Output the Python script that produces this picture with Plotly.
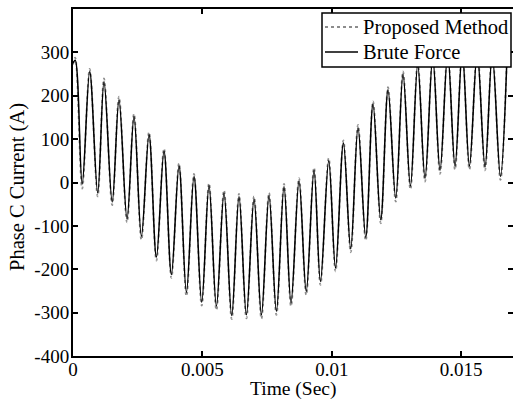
import plotly.graph_objects as go

# Extremum times (s)
time_s = [0.0, 0.000085, 0.000355, 0.000645, 0.000954, 0.001198, 0.001515, 0.001777,
          0.002087, 0.002357, 0.002643, 0.002937, 0.003223, 0.003516, 0.003802, 0.004096,
          0.004382, 0.004675, 0.004973, 0.005255, 0.005541, 0.005835, 0.006132, 0.006414,
          0.006700, 0.006994, 0.007280, 0.007573, 0.007859, 0.008153, 0.008423, 0.008733,
          0.009011, 0.009312, 0.009560, 0.009880, 0.010143, 0.010448, 0.010730, 0.011012,
          0.011310, 0.011592, 0.011889, 0.012172, 0.012469, 0.012751, 0.013037, 0.013319,
          0.013601, 0.013899, 0.014181, 0.014478, 0.014760, 0.015039, 0.015317, 0.015618,
          0.015920, 0.016198, 0.016515, 0.016758]

brute_force = [275, 282, -3, 256, -24, 233, -45, 191, -84, 152, -124, 110, -172, 72, -212, 38,
               -253, 14, -276, -7, -285, -24, -307, -32, -305, -38, -305, -30, -297, -9, -277, 4,
               -251, 28, -228, 50, -197, 91, -153, 127, -126, 181, -86, 214, -36, 250, -8, 272,
               10, 288, 28, 298, 38, 302, 38, 300, 36, 295, 14, 275]

proposed = [272, 288, -14, 262, -32, 240, -52, 198, -92, 158, -132, 116, -180, 78, -220, 44,
            -262, 20, -284, -2, -294, -18, -315, -26, -313, -32, -314, -24, -305, -3, -285, 10,
            -259, 34, -236, 56, -205, 97, -161, 133, -134, 187, -94, 220, -44, 256, -16, 278,
            2, 294, 20, 304, 30, 308, 30, 306, 28, 301, 6, 280]

x_ticks = [0, 0.005, 0.01, 0.015]
x_tick_text = ["0", "0.005", "0.01", "0.015"]
y_ticks = [-400, -300, -200, -100, 0, 100, 200, 300, 400]
y_tick_text = ["-400", "-300", "-200", "-100", "0", "100", "200", "300", "400"]

series_names = ["Proposed Method", "Brute Force"]

FONT = "Liberation Serif, Times New Roman, serif"
GRAY = "#8c8c8c"

fig = go.Figure()
fig.add_trace(go.Scatter(x=time_s, y=proposed, mode="lines", name=series_names[0], showlegend=False,
                         line=dict(color=GRAY, width=1.8, dash="dot", shape="spline", smoothing=1)))
fig.add_trace(go.Scatter(x=time_s, y=brute_force, mode="lines", name=series_names[1], showlegend=False,
                         line=dict(color="black", width=1.5, shape="spline", smoothing=1)))

axis_common = dict(showgrid=False, zeroline=False, showline=True, linecolor="black", linewidth=2,
                   mirror="ticks", ticks="inside", ticklen=5, tickwidth=2, tickcolor="black",
                   tickfont=dict(family=FONT, size=19, color="black"))

fig.update_xaxes(range=[0, 0.017], tickvals=x_ticks, ticktext=x_tick_text,
                 ticklabelstandoff=-5, **axis_common)
fig.update_yaxes(range=[-400, 400], tickvals=y_ticks, ticktext=y_tick_text,
                 ticklabelstandoff=-2, **axis_common)

# Legend box (drawn manually to match the reference's compact box)
PL, PW, PT, PH = 73, 440, 9, 347
def px(xp):
    return (xp - PL) / PW
def py(yp):
    return 1 - (yp - PT) / PH

shapes = [
    dict(type="rect", xref="paper", yref="paper", x0=px(322), x1=px(511), y0=py(67), y1=py(13),
         line=dict(color="black", width=1.5), fillcolor="white", layer="above"),
    dict(type="line", xref="paper", yref="paper", x0=px(325), x1=px(358), y0=py(27), y1=py(27),
         line=dict(color=GRAY, width=1.8, dash="dot"), layer="above"),
    dict(type="line", xref="paper", yref="paper", x0=px(325), x1=px(358), y0=py(52), y1=py(52),
         line=dict(color="black", width=1.5), layer="above"),
]

legend_font = dict(family=FONT, size=20.5, color="black")
annotations = [
    dict(text=series_names[0], xref="paper", yref="paper", x=px(361), y=py(27), xanchor="left",
         yanchor="middle", showarrow=False, font=legend_font),
    dict(text=series_names[1], xref="paper", yref="paper", x=px(361), y=py(52), xanchor="left",
         yanchor="middle", showarrow=False, font=legend_font),
    dict(text="Time (Sec)", xref="paper", yref="paper", x=0.5, y=0, xanchor="center",
         yanchor="middle", yshift=-33, showarrow=False,
         font=dict(family=FONT, size=19.5, color="black")),
    dict(text="Phase C Current (A)", xref="paper", yref="paper", x=0, y=0.5, xanchor="center",
         yanchor="middle", xshift=-55.5, yshift=-5, textangle=-90, showarrow=False,
         font=dict(family=FONT, size=20.5, color="black")),
]

fig.update_layout(
    width=513, height=409,
    margin=dict(l=73, r=0, t=9, b=53, autoexpand=False),
    paper_bgcolor="white", plot_bgcolor="white",
    showlegend=False,
    shapes=shapes,
    annotations=annotations,
)

fig.write_html("out.html")
